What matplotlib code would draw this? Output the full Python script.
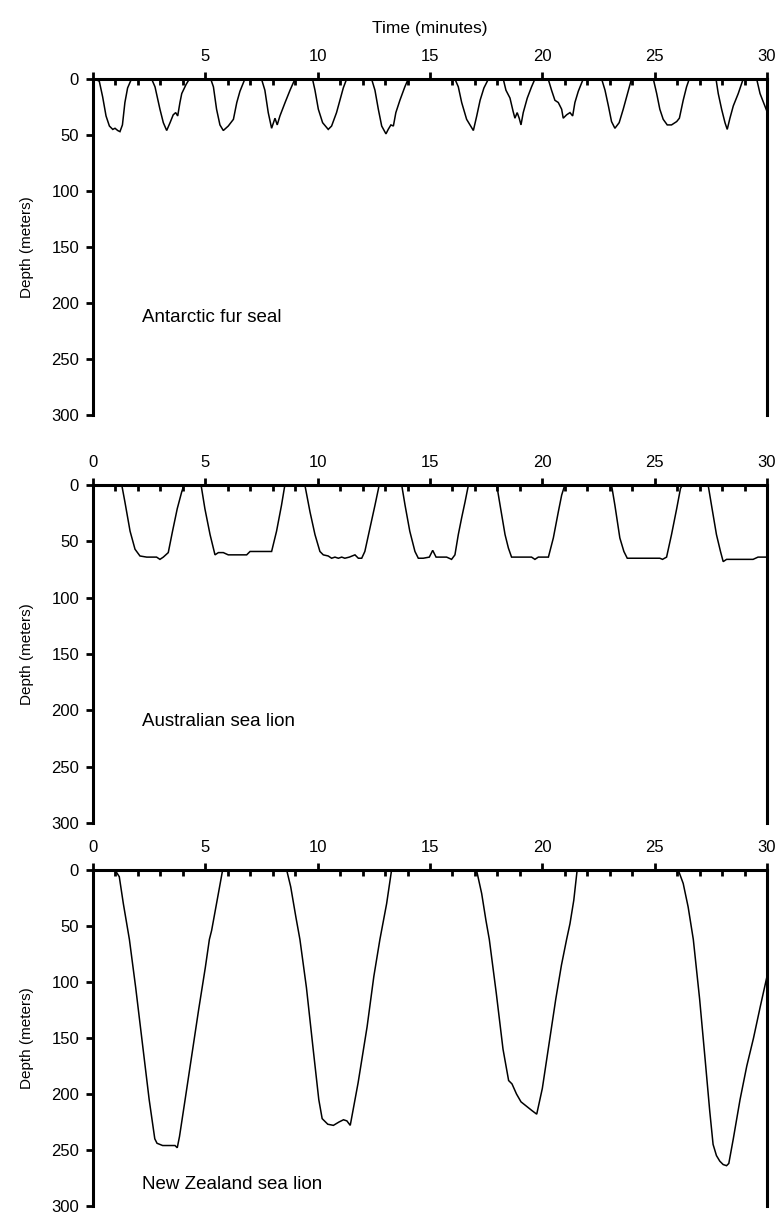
import matplotlib
matplotlib.use("Agg")
import matplotlib.pyplot as plt
from matplotlib.ticker import FixedLocator

plt.rcParams['font.family'] = ['Liberation Sans', 'DejaVu Sans']

# ---------------- data ----------------
species = ["Antarctic fur seal", "Australian sea lion", "New Zealand sea lion"]

fur_seal_time = [0, 0.09, 0.28, 0.43, 0.58, 0.73, 0.88, 0.98, 1.1, 1.2, 1.31, 1.42, 1.54, 1.68, 1.77,
                 2.61, 2.76, 2.98, 3.13, 3.28, 3.43, 3.57, 3.68, 3.77, 3.87, 3.95, 4.14, 4.29,
                 5.24, 5.36, 5.5, 5.65, 5.8, 6.02, 6.25, 6.4, 6.54, 6.76,
                 7.5, 7.65, 7.8, 7.95, 8.1, 8.2, 8.32, 8.55, 8.77, 8.99,
                 9.77, 9.88, 10.03, 10.22, 10.47, 10.62, 10.84, 10.99, 11.14, 11.29,
                 12.4, 12.55, 12.7, 12.85, 13.04, 13.14, 13.26, 13.37, 13.48, 13.66, 13.88, 14.03,
                 16.11, 16.26, 16.41, 16.63, 16.93, 17.08, 17.23, 17.4, 17.6,
                 18.26, 18.38, 18.56, 18.7, 18.78, 18.88, 18.97, 19.05, 19.15, 19.33, 19.52, 19.67,
                 20.26, 20.41, 20.56, 20.71, 20.86, 20.93, 21.08, 21.23, 21.35, 21.45, 21.6, 21.82,
                 22.64, 22.79, 22.94, 23.08, 23.23, 23.42, 23.6, 23.75, 23.97,
                 24.94, 25.09, 25.23, 25.38, 25.56, 25.75, 25.98, 26.1, 26.27, 26.42, 26.54,
                 27.73, 27.83, 27.98, 28.13, 28.23, 28.35, 28.5, 28.72, 28.94,
                 29.54, 29.69, 30.0]
fur_seal_depth = [0, 0, 2, 16, 33, 42, 45, 44, 46, 47, 41, 21, 8, 1.5, 0,
                  0, 7, 27, 39, 46, 39, 32, 30, 33, 21, 13, 5, 0,
                  0, 7, 27, 41, 46, 42, 36, 21, 11, 0,
                  0, 10, 30, 44, 35, 41, 33, 21, 10, 0,
                  0, 10, 27, 39, 45, 42, 30, 19, 8, 0,
                  0, 10, 27, 42, 49, 45, 41, 42, 30, 19, 7, 0,
                  0, 7, 21, 36, 46, 33, 19, 8, 0,
                  0, 10, 17, 29, 35, 30, 35, 41, 30, 17, 7, 0,
                  0, 10, 19, 21, 27, 35, 32, 30, 33, 21, 11, 0,
                  0, 10, 24, 38, 44, 39, 27, 16, 0,
                  0, 13, 27, 36, 41, 41, 38, 35, 19, 7, 0,
                  0, 13, 27, 39, 45, 35, 24, 13, 0,
                  0, 13, 29]

aus_lion_time = [0, 1.28, 1.42, 1.65, 1.87, 2.09, 2.39, 2.83, 2.98, 3.13, 3.35, 3.54, 3.75, 3.95, 4.05,
                 4.81, 4.98, 5.21, 5.43, 5.58, 5.8, 6.02, 6.84, 6.99, 7.95, 8.17, 8.39, 8.54,
                 9.43, 9.66, 9.88, 10.1, 10.25, 10.47, 10.62, 10.77, 10.92, 11.07, 11.21, 11.41, 11.66,
                 11.81, 11.96, 12.1, 12.33, 12.55, 12.74,
                 13.74, 13.89, 14.1, 14.33, 14.48, 14.7, 14.97, 15.12, 15.27, 15.74, 15.96, 16.11, 16.26,
                 16.41, 16.56, 16.71,
                 17.97, 18.12, 18.34, 18.49, 18.63, 19.52, 19.67, 19.82, 20.27, 20.49, 20.71, 20.86, 21.0,
                 23.08, 23.23, 23.45, 23.63, 23.78, 25.23, 25.35, 25.53, 25.75, 25.98, 26.15, 26.24,
                 27.38, 27.53, 27.75, 27.93, 28.05, 28.2, 29.38, 29.6, 30.0]
aus_lion_depth = [0, 0, 15, 41, 57, 63, 64, 64, 66, 64, 60, 41, 21, 6, 0,
                  0, 21, 44, 62, 60, 60, 62, 62, 59, 59, 41, 18, 0,
                  0, 24, 44, 59, 62, 63, 65, 64, 65, 64, 65, 64, 62,
                  65, 65, 59, 38, 18, 0,
                  0, 18, 41, 59, 65, 65, 64, 58, 64, 64, 66, 62, 44,
                  29, 15, 0,
                  0, 18, 44, 56, 64, 64, 66, 64, 64, 47, 24, 9, 0,
                  0, 18, 47, 59, 65, 65, 66, 64, 44, 21, 3, 0,
                  0, 18, 44, 59, 68, 66, 66, 64, 64]

nz_lion_time = [0, 0.98, 1.17, 1.35, 1.62, 1.9, 2.2, 2.5, 2.75, 2.85, 3.1, 3.4, 3.65, 3.75, 3.85,
                4.1, 4.4, 4.7, 5.0, 5.18, 5.28, 5.58, 5.77,
                8.62, 8.8, 9.03, 9.21, 9.5, 9.8, 10.05, 10.2, 10.45, 10.7, 10.95, 11.15, 11.3, 11.45,
                11.8, 12.2, 12.5, 12.77, 13.07, 13.29,
                17.07, 17.3, 17.49, 17.64, 17.95, 18.25, 18.5, 18.65, 18.85, 19.05, 19.3, 19.55, 19.75,
                20.0, 20.3, 20.6, 20.85, 21.08, 21.23, 21.4, 21.55,
                26.05, 26.27, 26.49, 26.72, 27.0, 27.25, 27.45, 27.6, 27.75, 27.9, 28.05, 28.2, 28.3,
                28.5, 28.8, 29.1, 29.4, 29.7, 30.0]
nz_lion_depth = [0, 0, 6, 30, 62, 105, 155, 205, 240, 244, 246, 246, 246, 248, 238,
                 205, 165, 125, 87, 62, 54, 21, 0,
                 0, 15, 42, 62, 105, 160, 205, 222, 227, 228, 225, 223, 224, 228,
                 190, 140, 95, 62, 30, 0,
                 0, 21, 45, 62, 110, 160, 188, 191, 200, 207, 211, 215, 218,
                 195, 155, 115, 85, 62, 48, 27, 0,
                 0, 12, 33, 62, 115, 170, 215, 245, 255, 260, 263, 264, 262,
                 240, 205, 175, 150, 122, 95]

x_major = [0, 5, 10, 15, 20, 25, 30]
x_minor = [m for m in range(31) if m % 5 != 0]
y_ticks = [0, 50, 100, 150, 200, 250, 300]

series = [(fur_seal_time, fur_seal_depth),
          (aus_lion_time, aus_lion_depth),
          (nz_lion_time, nz_lion_depth)]

# ---------------- layout ----------------
W, H = 779, 1214
fig = plt.figure(figsize=(W / 100, H / 100), dpi=100)
panel_px = [(79, 415), (485, 823), (870, 1206)]
label_depth = [213, 210, 281]

for i, ((top, bot), (t, d)) in enumerate(zip(panel_px, series)):
    ax = fig.add_axes([93 / W, 1 - bot / H, 674 / W, (bot - top) / H])
    ax.plot(t, d, color='black', lw=1.1, solid_joinstyle='miter')
    ax.set_xlim(0, 30)
    ax.set_ylim(300, 0)
    ax.xaxis.tick_top()
    ax.spines['bottom'].set_visible(False)
    for s in ['top', 'left', 'right']:
        ax.spines[s].set_linewidth(2.2)
    ax.xaxis.set_major_locator(FixedLocator(x_major))
    ax.xaxis.set_minor_locator(FixedLocator(x_minor))
    if i == 0:
        ax.set_xticklabels([''] + [str(v) for v in x_major[1:]])
    else:
        ax.set_xticklabels([str(v) for v in x_major])
    ax.set_yticks(y_ticks)
    ax.set_yticklabels([str(v) for v in y_ticks])
    ax.tick_params(axis='x', which='major', direction='out', length=5, width=2,
                   pad=6, labelsize=12, top=True, bottom=False)
    ax.tick_params(axis='x', which='minor', direction='in', length=4, width=2,
                   top=True, bottom=False)
    ax.tick_params(axis='y', which='major', direction='out', length=5, width=2,
                   pad=5, labelsize=12, left=True, right=False)
    ax.set_ylabel("Depth (meters)", fontsize=11)
    ax.yaxis.set_label_coords(-0.087, 0.5)
    ax.text(2.2, label_depth[i], species[i], fontsize=13.5, va='center', ha='left')

fig.text(430 / W, 1 - 29 / H, "Time (minutes)", ha='center', va='center', fontsize=12.5)

fig.savefig("out.png", dpi=100)
